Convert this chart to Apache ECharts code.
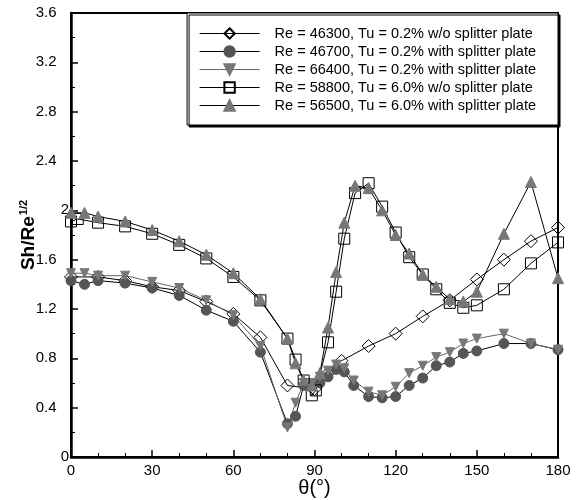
<!DOCTYPE html>
<html>
<head>
<meta charset="utf-8">
<script src="https://cdn.jsdelivr.net/npm/echarts@6/dist/echarts.min.js"></script>
<style>
  html, body { margin: 0; padding: 0; background: #fff; }
  #chart { width: 582px; height: 500px; }
</style>
</head>
<body>
<div id="chart"></div>
<script>
// angle (deg) and Sh/Re^1/2
const seriesNames = [
  "Re = 46300, Tu = 0.2% w/o splitter plate",
  "Re = 46700, Tu = 0.2% with splitter plate",
  "Re = 66400, Tu = 0.2% with splitter plate",
  "Re = 58800, Tu = 6.0% w/o splitter plate",
  "Re = 56500, Tu = 6.0% with splitter plate"
];

const thetaDiamond = [0, 10, 20, 30, 40, 50, 60, 70, 80, 90, 95, 100, 110, 120, 130, 140, 150, 160, 170, 180];
const shDiamond = [1.46, 1.46, 1.43, 1.38, 1.35, 1.26, 1.16, 0.97, 0.58, 0.55, 0.68, 0.78, 0.9, 1.0, 1.14, 1.27, 1.44, 1.6, 1.75, 1.86];

const thetaLow = [0, 5, 10, 20, 30, 40, 50, 60, 70, 80, 83, 86, 89, 92, 95, 98, 101, 104.5, 110, 115, 120, 125, 130, 135, 140, 145, 150, 160, 170, 180];
const shCircle = [1.43, 1.4, 1.43, 1.41, 1.37, 1.31, 1.19, 1.1, 0.85, 0.27, 0.33, 0.58, 0.58, 0.6, 0.65, 0.71, 0.69, 0.58, 0.49, 0.48, 0.49, 0.58, 0.64, 0.74, 0.77, 0.84, 0.86, 0.92, 0.92, 0.87];
const shDownTri = [1.49, 1.49, 1.47, 1.47, 1.42, 1.37, 1.27, 1.15, 0.9, 0.24, 0.44, 0.6, 0.6, 0.65, 0.7, 0.75, 0.72, 0.62, 0.53, 0.5, 0.57, 0.68, 0.74, 0.81, 0.85, 0.92, 0.96, 1.0, 0.92, 0.87];

const thetaSquare = [0, 2.5, 10, 20, 30, 40, 50, 60, 70, 80, 83, 86, 89, 90.5, 95, 98, 101, 105, 110, 115, 120, 125, 130, 135, 140, 145, 150, 160, 170, 180];
const shSquare = [1.91, 1.93, 1.9, 1.87, 1.81, 1.72, 1.61, 1.46, 1.27, 0.96, 0.79, 0.62, 0.5, 0.54, 0.93, 1.34, 1.77, 2.14, 2.22, 2.03, 1.82, 1.62, 1.48, 1.36, 1.25, 1.21, 1.23, 1.36, 1.57, 1.74];

const thetaUpTri = [0, 5, 10, 20, 30, 40, 50, 60, 70, 80, 83, 86, 89, 92, 95, 98, 101, 105, 110, 115, 120, 125, 130, 135, 140, 145, 150, 160, 170, 180];
const shUpTri = [1.98, 1.98, 1.95, 1.91, 1.84, 1.75, 1.64, 1.49, 1.28, 0.96, 0.76, 0.62, 0.58, 0.68, 1.05, 1.5, 1.9, 2.2, 2.18, 2.0, 1.8, 1.65, 1.48, 1.38, 1.28, 1.26, 1.34, 1.81, 2.23, 1.45];

const pairs = (xs, ys) => xs.map((x, i) => [x, ys[i]]);

const font = "Liberation Sans, Arial, Helvetica, sans-serif";
const chart = echarts.init(document.getElementById("chart"));

const mkSeries = (name, data, symbol, size, fill, line, extra) => Object.assign({
  name: name,
  type: "line",
  data: data,
  symbol: symbol,
  symbolSize: size,
  showAllSymbol: true,
  lineStyle: { color: line, width: 1 },
  itemStyle: { color: fill, borderColor: fill === "transparent" ? "#000" : fill, borderWidth: 1, opacity: 1 },
  emphasis: { disabled: true },
  animation: false
}, extra || {});

chart.setOption({
  animation: false,
  grid: {
    left: 71, right: 24, top: 13, bottom: 43,
    outerBoundsMode: "none",
    containLabel: false,
    show: true, borderColor: "#000", borderWidth: 2
  },
  legend: {
    orient: "vertical",
    right: 24, top: 13,
    padding: [13, 22, 12, 12],
    itemWidth: 60, itemHeight: 13, itemGap: 3,
    backgroundColor: "#fff",
    borderColor: "#000", borderWidth: 1,
    shadowColor: "#000", shadowOffsetX: 2, shadowOffsetY: 2, shadowBlur: 0,
    lineStyle: { width: 1 },
    textStyle: { fontFamily: font, fontSize: 14.5, color: "#000", padding: [0, 0, 0, 10] },
    data: seriesNames
  },
  xAxis: {
    type: "value", min: 0, max: 180, interval: 30,
    name: "θ(°)", nameLocation: "middle", nameGap: 21,
    nameMoveOverlap: false,
    nameTextStyle: { fontFamily: font, fontSize: 20, color: "#000" },
    axisLine: { lineStyle: { color: "#000", width: 2.5 } },
    axisTick: { inside: true, length: 7, lineStyle: { color: "#000", width: 1.5 } },
    minorTick: { show: true, splitNumber: 3, length: 4, lineStyle: { color: "#000", width: 1 } },
    axisLabel: { fontFamily: font, fontSize: 15, color: "#000", margin: 6 },
    splitLine: { show: false }
  },
  yAxis: {
    type: "value", min: 0, max: 3.6, interval: 0.4,
    name: "{a|Sh/Re}{s|1/2}", nameLocation: "middle", nameGap: 32, nameRotate: 90,
    nameMoveOverlap: false,
    nameTextStyle: {
      rich: {
        a: { fontFamily: font, fontSize: 19, fontWeight: "bold", color: "#000" },
        s: { fontFamily: font, fontSize: 11, fontWeight: "bold", color: "#000", padding: [0, 0, 10, 1] }
      }
    },
    axisLine: { lineStyle: { color: "#000", width: 2.5 } },
    axisTick: { inside: true, length: 7, lineStyle: { color: "#000", width: 1.5 } },
    minorTick: { show: true, splitNumber: 2, length: 4, lineStyle: { color: "#000", width: 1 } },
    axisLabel: {
      fontFamily: font, fontSize: 15, color: "#000", margin: 2,
      // whole numbers sit close to the axis, decimals further out (as in the original plot)
      formatter: v => {
        const r = Math.round(v * 10) / 10;
        return Number.isInteger(r) ? String(r) : r.toFixed(1) + "   ";
      }
    },
    splitLine: { show: false }
  },
  series: [
    mkSeries(seriesNames[0], pairs(thetaDiamond, shDiamond), "diamond", 13, "transparent", "#000"),
    mkSeries(seriesNames[1], pairs(thetaLow, shCircle), "circle", 10, "#555", "#000"),
    mkSeries(seriesNames[2], pairs(thetaLow, shDownTri), "triangle", 9, "#777", "#666", { symbolRotate: 180 }),
    mkSeries(seriesNames[3], pairs(thetaSquare, shSquare), "rect", 11, "transparent", "#000"),
    mkSeries(seriesNames[4], pairs(thetaUpTri, shUpTri), "triangle", 11, "#777", "#000")
  ]
});
</script>
</body>
</html>
